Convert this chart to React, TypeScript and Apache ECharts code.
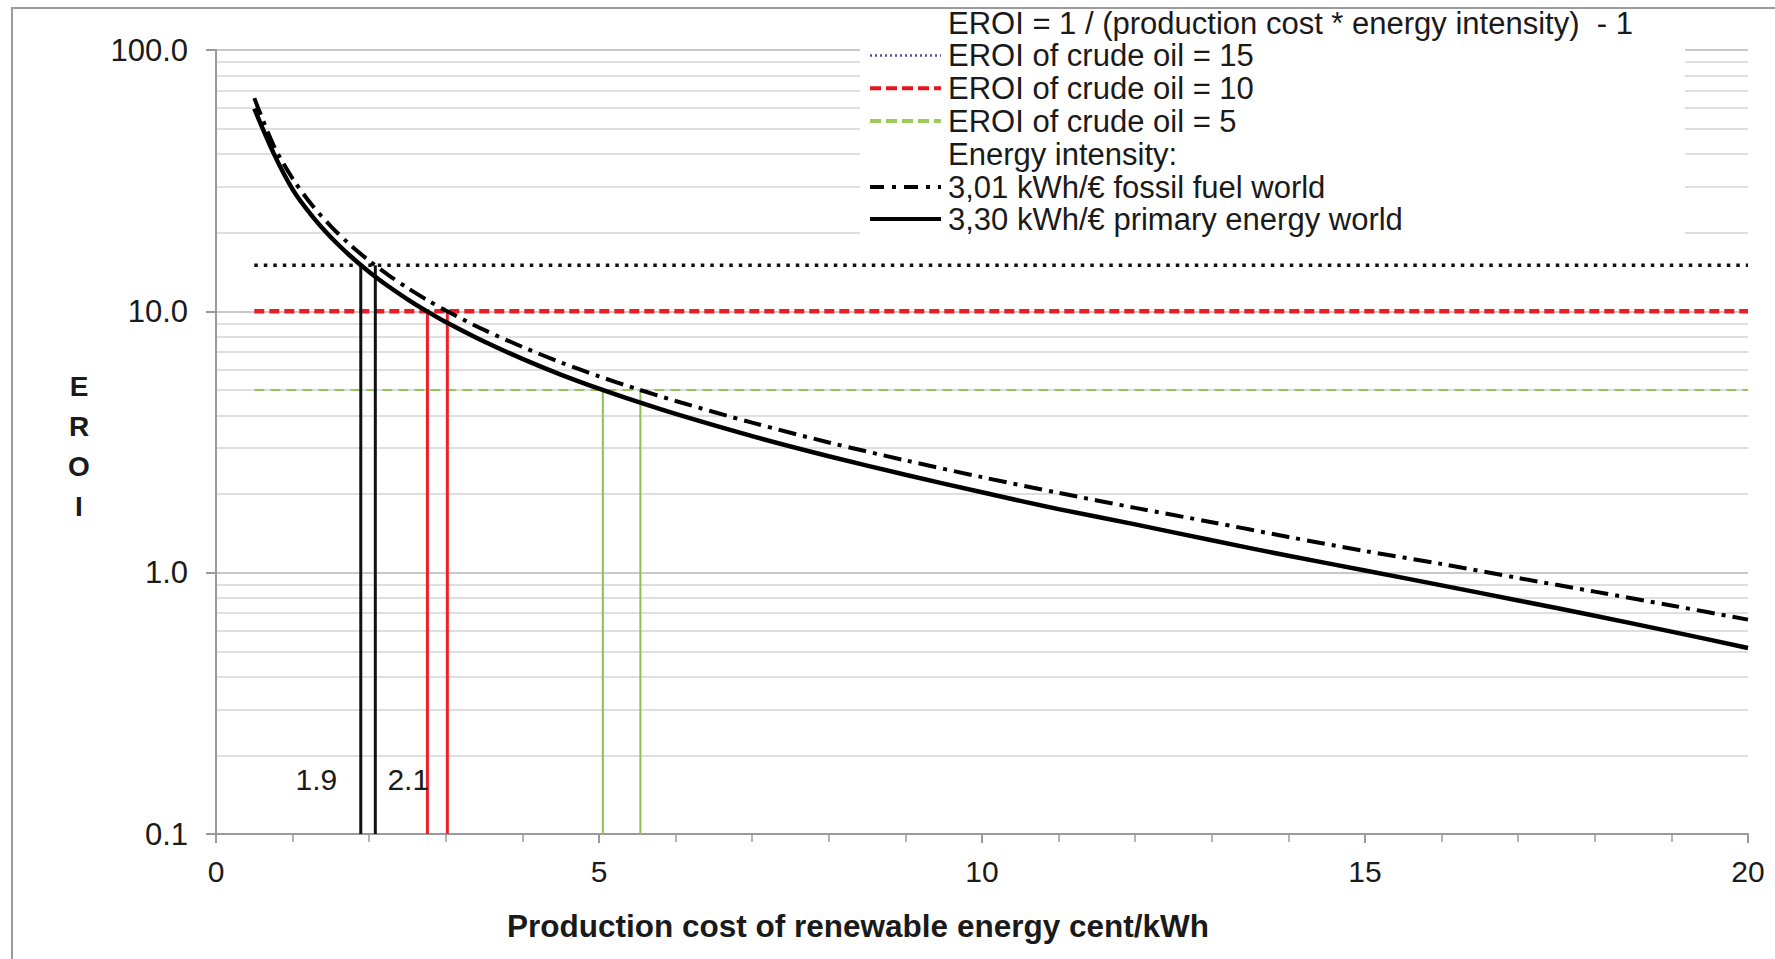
import React, { useEffect, useRef } from 'react';
import * as echarts from 'echarts';

// Production cost of renewable energy (cent/kWh)
const costX = [0.5, 0.75, 1, 1.25, 1.5, 1.75, 2, 2.25, 2.5, 2.75, 3, 3.5, 4, 4.5, 5, 5.5, 6, 7, 8, 9, 10, 11, 12, 13, 14, 15, 16, 17, 18, 19, 20];
// EROI, energy intensity 3,30 kWh/€ (primary energy world)
const eroiPrimary = [59.61, 40.4, 29.3, 23.24, 19.2, 16.32, 14.15, 12.47, 11.12, 10.02, 9.1, 7.66, 6.58, 5.73, 5.06, 4.51, 4.05, 3.33, 2.79, 2.37, 2.03, 1.75, 1.53, 1.33, 1.16, 1.02, 0.894, 0.783, 0.684, 0.595, 0.515];
// EROI, energy intensity 3,01 kWh/€ (fossil fuel world)
const eroiFossil = [65.45, 43.3, 32.22, 25.58, 21.15, 17.98, 15.61, 13.77, 12.29, 11.08, 10.07, 8.49, 7.31, 6.38, 5.64, 5.04, 4.54, 3.75, 3.15, 2.69, 2.32, 2.02, 1.77, 1.56, 1.37, 1.21, 1.08, 0.954, 0.846, 0.749, 0.661];

// EROI of crude oil levels and the x range they are drawn over
const oilLevels = [15, 10, 5];
const levelRange = [0.5, 20];
// Costs where each curve (primary, fossil) meets each oil level
const crossCosts = [
  [1.89, 2.08],
  [2.76, 3.02],
  [5.05, 5.54],
];
// Annotation labels for the EROI = 15 crossings
const crossLabelText = ['1.9', '2.1'];
const crossLabelAt = [
  [1.31, 0.161],
  [2.51, 0.161],
];

const xMin = 0;
const xMax = 20;
const yMin = 0.1;
const yMax = 100;

const FONT = '"Liberation Sans", Arial, sans-serif';
const TEXT = '#1a1a1a';

const levelStyles = [
  { color: '#111111', width: 3.5, type: [3.5, 6] as number[] },
  { color: '#ec1c24', width: 4.5, type: [10, 5] as number[] },
  { color: '#94c75a', width: 2, type: [10, 6] as number[] },
];
const dropStyles = [
  { color: '#111111', width: 3 },
  { color: '#ec2027', width: 3 },
  { color: '#8cc152', width: 2 },
];

const legendRows = [
  { text: 'EROI = 1 / (production cost * energy intensity)  - 1' },
  { text: 'EROI of crude oil = 15', stroke: '#5a4a9c', dash: [2, 3], width: 2.5 },
  { text: 'EROI of crude oil = 10', stroke: '#e8141c', dash: [11, 5], width: 4 },
  { text: 'EROI of crude oil = 5', stroke: '#9ccb5c', dash: [11, 5], width: 4 },
  { text: 'Energy intensity:' },
  { text: '3,01 kWh/€ fossil fuel world', stroke: '#000000', dash: [14, 8, 4, 8], width: 4 },
  { text: '3,30 kWh/€ primary energy world', stroke: '#000000', width: 4 },
];

export default function App() {
  const ref = useRef<HTMLDivElement>(null);

  useEffect(() => {
    document.body.style.margin = '0';
    if (!ref.current) return;
    const chart = echarts.init(ref.current, null, { renderer: 'svg' });

    const series: any[] = [];

    oilLevels.forEach((lvl, i) => {
      series.push({
        type: 'line',
        name: 'level' + lvl,
        data: [
          [levelRange[0], lvl],
          [levelRange[1], lvl],
        ],
        showSymbol: false,
        symbol: 'none',
        lineStyle: { color: levelStyles[i].color, width: levelStyles[i].width, type: levelStyles[i].type, cap: 'butt' },
        z: 3,
      });
      crossCosts[i].forEach((c, j) => {
        series.push({
          type: 'line',
          name: 'drop' + lvl + '_' + j,
          data: [
            [c, yMin],
            [c, lvl],
          ],
          showSymbol: false,
          symbol: 'none',
          lineStyle: { color: dropStyles[i].color, width: dropStyles[i].width, type: 'solid' },
          z: 4,
        });
      });
    });

    series.push({
      type: 'line',
      name: 'fossil',
      data: costX.map((x, i) => [x, eroiFossil[i]]),
      showSymbol: false,
      symbol: 'none',
      smooth: 0.3,
      lineStyle: { color: '#000', width: 4, type: [18, 7, 4, 7] },
      z: 6,
    });
    series.push({
      type: 'line',
      name: 'primary',
      data: costX.map((x, i) => [x, eroiPrimary[i]]),
      showSymbol: false,
      symbol: 'none',
      smooth: 0.3,
      lineStyle: { color: '#000', width: 4.5, type: 'solid' },
      z: 6,
    });
    series.push({
      type: 'scatter',
      name: 'labels',
      data: crossLabelAt.map((p, i) => ({ value: p, name: crossLabelText[i] })),
      symbolSize: 0,
      itemStyle: { color: TEXT, opacity: 1 },
      label: {
        show: true,
        position: 'inside',
        formatter: (p: any) => p.name,
        fontSize: 30,
        fontFamily: FONT,
        color: TEXT,
        opacity: 1,
        textBorderWidth: 0,
      },
      z: 7,
    });

    const graphics: any[] = [
      {
        type: 'rect',
        z: -10,
        silent: true,
        shape: { x: 12, y: 8, width: 1800, height: 1000 },
        style: { fill: 'none', stroke: '#9a9a9a', lineWidth: 2 },
      },
      {
        type: 'rect',
        z: 50,
        silent: true,
        shape: { x: 860, y: 10, width: 825, height: 230 },
        style: { fill: '#ffffff', stroke: 'none' },
      },
      {
        type: 'text',
        z: 60,
        x: 858,
        y: 926,
        style: {
          text: 'Production cost of renewable energy cent/kWh',
          fontSize: 31.5,
          fontWeight: 'bold',
          fontFamily: FONT,
          fill: TEXT,
          align: 'center',
          verticalAlign: 'middle',
        },
      },
      {
        type: 'text',
        z: 60,
        x: 79,
        y: 446,
        style: {
          text: 'E\nR\nO\nI',
          fontSize: 28,
          lineHeight: 40,
          fontWeight: 'bold',
          fontFamily: FONT,
          fill: TEXT,
          align: 'center',
          verticalAlign: 'middle',
        },
      },
    ];

    const rowY = [23, 55.5, 88.3, 121, 154, 187, 219];
    legendRows.forEach((r, i) => {
      const y = rowY[i];
      if (r.stroke) {
        graphics.push({
          type: 'line',
          z: 60,
          shape: { x1: 870, y1: y, x2: 941, y2: y },
          style: { stroke: r.stroke, lineWidth: r.width, lineDash: r.dash || null },
        });
      }
      graphics.push({
        type: 'text',
        z: 60,
        x: 948,
        y: y,
        style: {
          text: r.text,
          fontSize: 31,
          lineHeight: 31,
          fontFamily: FONT,
          fill: TEXT,
          align: 'left',
          verticalAlign: 'middle',
        },
      });
    });

    chart.setOption({
      animation: false,
      backgroundColor: '#ffffff',
      grid: { left: 216, right: 27, top: 50, bottom: 125 },
      xAxis: {
        type: 'value',
        min: xMin,
        max: xMax,
        interval: 5,
        axisLine: { show: true, onZero: false, lineStyle: { color: '#9a9a9a', width: 2 } },
        axisTick: { show: true, length: 9, lineStyle: { color: '#9a9a9a', width: 2 } },
        minorTick: { show: true, splitNumber: 5, length: 8, lineStyle: { color: '#9a9a9a', width: 1.5 } },
        splitLine: { show: false },
        axisLabel: { fontSize: 30, fontFamily: FONT, color: TEXT, margin: 22 },
      },
      yAxis: {
        type: 'log',
        logBase: 10,
        min: yMin,
        max: yMax,
        axisLine: { show: true, lineStyle: { color: '#9a9a9a', width: 2 } },
        axisTick: { show: true, length: 10, lineStyle: { color: '#9a9a9a', width: 2 } },
        minorTick: { show: false, splitNumber: 9 },
        splitLine: { show: true, lineStyle: { color: '#c9c9c9', width: 2 } },
        minorSplitLine: { show: true, lineStyle: { color: '#d4d4d4', width: 1.5 } },
        axisLabel: {
          fontSize: 31,
          fontFamily: FONT,
          color: TEXT,
          margin: 28,
          formatter: (v: number) => Number(v).toFixed(1),
        },
      },
      series,
      graphic: graphics,
    });

    return () => chart.dispose();
  }, []);

  return <div ref={ref} style={{ width: 1775, height: 959 }} />;
}
